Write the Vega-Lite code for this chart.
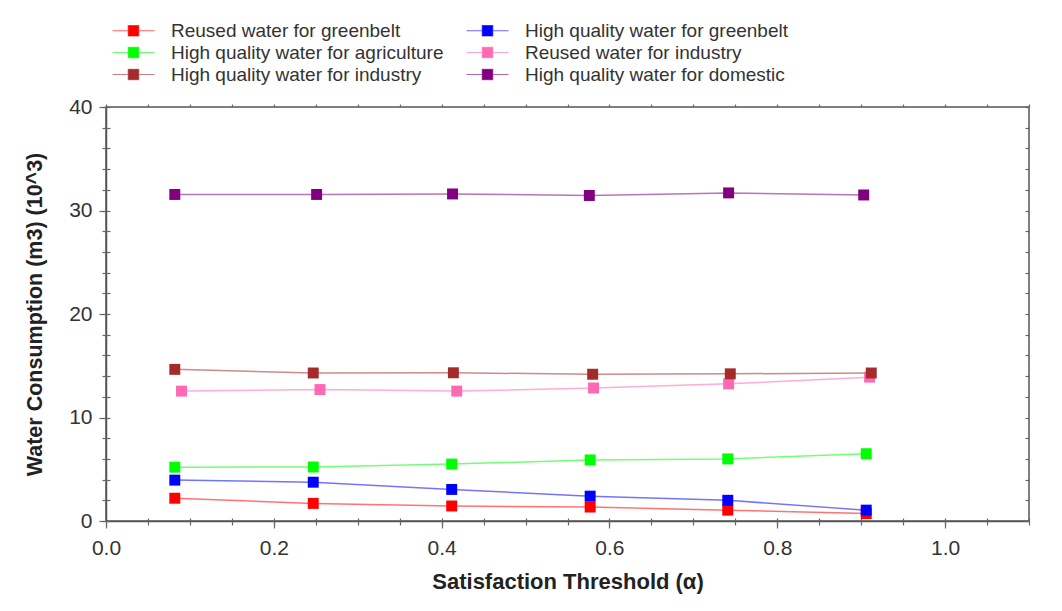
{
  "$schema": "https://vega.github.io/schema/vega-lite/v6.json",
  "width": 923,
  "height": 414,
  "autosize": {"type": "none"},
  "padding": {"left": 106, "top": 107, "right": 33, "bottom": 90},
  "background": "white",
  "data": {"values": [
    {"series": "Reused water for greenbelt", "x": 0.082, "y": 2.2},
    {"series": "Reused water for greenbelt", "x": 0.247, "y": 1.7},
    {"series": "Reused water for greenbelt", "x": 0.412, "y": 1.45},
    {"series": "Reused water for greenbelt", "x": 0.577, "y": 1.35},
    {"series": "Reused water for greenbelt", "x": 0.741, "y": 1.05},
    {"series": "Reused water for greenbelt", "x": 0.906, "y": 0.72},
    {"series": "High quality water for greenbelt", "x": 0.082, "y": 3.95},
    {"series": "High quality water for greenbelt", "x": 0.247, "y": 3.75},
    {"series": "High quality water for greenbelt", "x": 0.412, "y": 3.05},
    {"series": "High quality water for greenbelt", "x": 0.577, "y": 2.4},
    {"series": "High quality water for greenbelt", "x": 0.741, "y": 2.0},
    {"series": "High quality water for greenbelt", "x": 0.906, "y": 1.05},
    {"series": "High quality water for agriculture", "x": 0.082, "y": 5.2},
    {"series": "High quality water for agriculture", "x": 0.247, "y": 5.22},
    {"series": "High quality water for agriculture", "x": 0.412, "y": 5.5},
    {"series": "High quality water for agriculture", "x": 0.577, "y": 5.9},
    {"series": "High quality water for agriculture", "x": 0.741, "y": 6.0},
    {"series": "High quality water for agriculture", "x": 0.906, "y": 6.5},
    {"series": "Reused water for industry", "x": 0.09, "y": 12.55},
    {"series": "Reused water for industry", "x": 0.255, "y": 12.7},
    {"series": "Reused water for industry", "x": 0.418, "y": 12.55},
    {"series": "Reused water for industry", "x": 0.581, "y": 12.85},
    {"series": "Reused water for industry", "x": 0.742, "y": 13.25},
    {"series": "Reused water for industry", "x": 0.91, "y": 13.9},
    {"series": "High quality water for industry", "x": 0.082, "y": 14.65},
    {"series": "High quality water for industry", "x": 0.247, "y": 14.3},
    {"series": "High quality water for industry", "x": 0.414, "y": 14.32},
    {"series": "High quality water for industry", "x": 0.58, "y": 14.18},
    {"series": "High quality water for industry", "x": 0.744, "y": 14.22},
    {"series": "High quality water for industry", "x": 0.912, "y": 14.3},
    {"series": "High quality water for domestic", "x": 0.082, "y": 31.55},
    {"series": "High quality water for domestic", "x": 0.251, "y": 31.55},
    {"series": "High quality water for domestic", "x": 0.413, "y": 31.6},
    {"series": "High quality water for domestic", "x": 0.576, "y": 31.45},
    {"series": "High quality water for domestic", "x": 0.742, "y": 31.7},
    {"series": "High quality water for domestic", "x": 0.903, "y": 31.5}
  ]},
  "layer": [
    {
      "mark": {"type": "line", "strokeWidth": 1.5, "strokeOpacity": 0.55},
      "encoding": {
        "x": {"field": "x", "type": "quantitative",
          "scale": {"domain": [0, 1.1], "nice": false, "zero": false},
          "axis": {"orient": "bottom", "values": [0, 0.2, 0.4, 0.6, 0.8, 1.0], "format": ".1f",
            "tickSize": 7, "labelPadding": 9, "title": "Satisfaction Threshold (α)", "titlePadding": 13, "titleFontSize": 22}},
        "y": {"field": "y", "type": "quantitative",
          "scale": {"domain": [0, 40], "nice": false},
          "axis": {"orient": "left", "values": [0, 10, 20, 30, 40], "format": "d",
            "tickSize": 7, "labelPadding": 7, "title": "Water Consumption (m3) (10^3)", "titlePadding": 22, "titleFontSize": 21.5}},
        "color": {"field": "series", "type": "nominal",
          "scale": {
            "domain": ["Reused water for greenbelt", "High quality water for agriculture", "High quality water for industry", "High quality water for greenbelt", "Reused water for industry", "High quality water for domestic"],
            "range": ["#FF0000", "#00FF00", "#A52A2A", "#0000FF", "#FF69B4", "#800080"]},
          "legend": {"orient": "none", "legendX": 16, "legendY": -88, "columns": 2, "title": null,
            "symbolType": "M-2,0H2M-0.5,-0.5H0.5V0.5H-0.5Z", "symbolSize": 441, "symbolStrokeWidth": 1.2,
            "labelFontSize": 19, "labelFont": "Liberation Sans", "labelColor": "#333", "labelOffset": 26,
            "rowPadding": 0, "columnPadding": 20, "padding": 0, "labelLimit": 500,
            "encode": {"symbols": {"update": {
              "fill": {"scale": "color", "field": "value"},
              "stroke": {"scale": "color", "field": "value"},
              "strokeOpacity": {"value": 0.6},
              "fillOpacity": {"value": 1},
              "opacity": {"value": 1}}}}}}
      }
    },
    {
      "mark": {"type": "point", "shape": "square", "filled": true, "size": 120, "opacity": 1},
      "encoding": {
        "x": {"field": "x", "type": "quantitative", "scale": {"domain": [0, 1.1], "nice": false, "zero": false}, "axis": null},
        "y": {"field": "y", "type": "quantitative", "scale": {"domain": [0, 40], "nice": false}, "axis": null},
        "color": {"field": "series", "type": "nominal"}
      }
    },
    {
      "mark": {"type": "point", "opacity": 0},
      "encoding": {
        "x": {"field": "x", "type": "quantitative", "scale": {"domain": [0, 1.1], "nice": false, "zero": false},
          "axis": {"orient": "bottom", "values": [0, 0.05, 0.1, 0.15, 0.2, 0.25, 0.3, 0.35, 0.4, 0.45, 0.5, 0.55, 0.6, 0.65, 0.7, 0.75, 0.8, 0.85, 0.9, 0.95, 1.0, 1.05, 1.1],
            "tickSize": 4, "labels": false, "domain": false, "title": null}},
        "y": {"field": "y", "type": "quantitative", "scale": {"domain": [0, 40], "nice": false},
          "axis": {"orient": "left", "values": [0, 2, 4, 6, 8, 10, 12, 14, 16, 18, 20, 22, 24, 26, 28, 30, 32, 34, 36, 38, 40],
            "tickSize": 4, "labels": false, "domain": false, "title": null}}
      }
    },
    {
      "mark": {"type": "point", "opacity": 0},
      "encoding": {
        "x": {"field": "x", "type": "quantitative", "scale": {"domain": [0, 1.1], "nice": false, "zero": false},
          "axis": {"orient": "bottom", "values": [0, 0.05, 0.1, 0.15, 0.2, 0.25, 0.3, 0.35, 0.4, 0.45, 0.5, 0.55, 0.6, 0.65, 0.7, 0.75, 0.8, 0.85, 0.9, 0.95, 1.0, 1.05, 1.1],
            "tickSize": -3, "labels": false, "domain": false, "title": null}},
        "y": {"field": "y", "type": "quantitative", "scale": {"domain": [0, 40], "nice": false},
          "axis": {"orient": "left", "values": [0, 2, 4, 6, 8, 10, 12, 14, 16, 18, 20, 22, 24, 26, 28, 30, 32, 34, 36, 38, 40],
            "tickSize": -4, "labels": false, "domain": false, "title": null}}
      }
    },
    {
      "mark": {"type": "point", "opacity": 0},
      "encoding": {
        "x": {"field": "x", "type": "quantitative", "scale": {"domain": [0, 1.1], "nice": false, "zero": false},
          "axis": {"orient": "top", "values": [0, 0.05, 0.1, 0.15, 0.2, 0.25, 0.3, 0.35, 0.4, 0.45, 0.5, 0.55, 0.6, 0.65, 0.7, 0.75, 0.8, 0.85, 0.9, 0.95, 1.0, 1.05, 1.1],
            "tickSize": 3, "labels": false, "domain": false, "title": null}},
        "y": {"field": "y", "type": "quantitative", "scale": {"domain": [0, 40], "nice": false},
          "axis": {"orient": "right", "values": [0, 2, 4, 6, 8, 10, 12, 14, 16, 18, 20, 22, 24, 26, 28, 30, 32, 34, 36, 38, 40],
            "tickSize": -4, "labels": false, "domain": false, "title": null}}
      }
    }
  ],
  "resolve": {"axis": {"x": "independent", "y": "independent"}},
  "config": {
    "font": "Liberation Sans",
    "view": {"stroke": "#555", "strokeWidth": 1.5},
    "axis": {"grid": false, "domainColor": "#555", "domainWidth": 1.5, "tickColor": "#666", "tickWidth": 1.2,
      "labelFont": "Liberation Sans", "labelFontSize": 21, "labelColor": "#333", "labelFlush": false,
      "titleFont": "Liberation Sans", "titleFontSize": 21, "titleFontWeight": "bold", "titleColor": "#222"}
  }
}
